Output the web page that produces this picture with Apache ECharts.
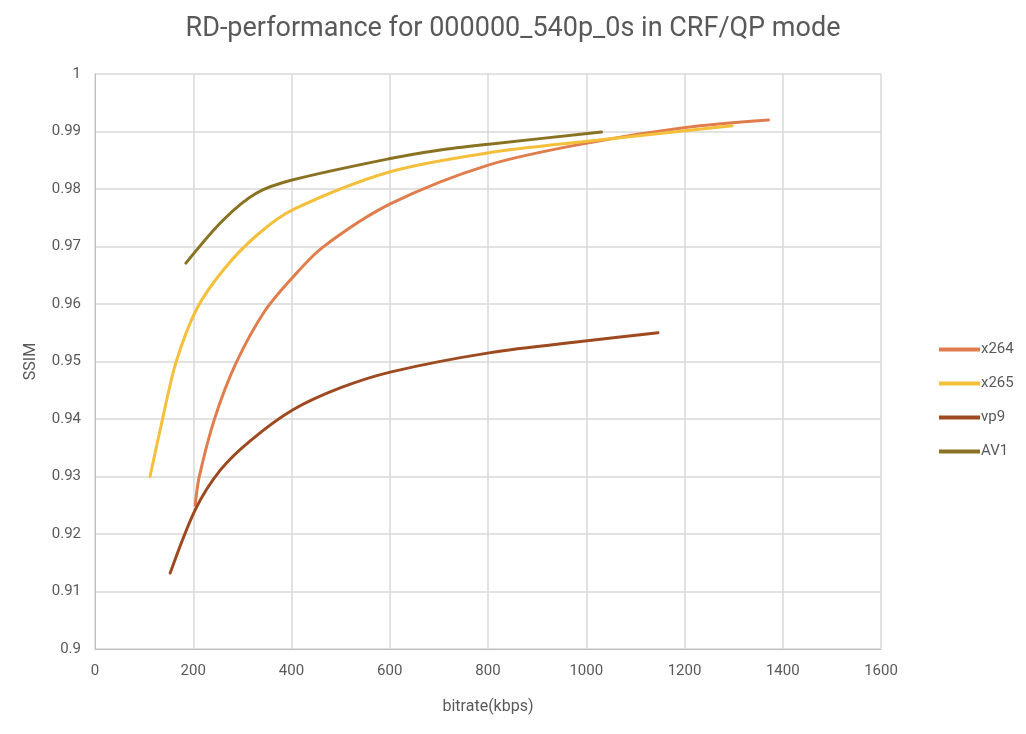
<!DOCTYPE html>
<html>
<head>
<meta charset="utf-8">
<script src="https://cdn.jsdelivr.net/npm/echarts@6/dist/echarts.min.js"></script>
<style>
html,body{margin:0;padding:0;background:#fff;}
#chart{width:1026px;height:734px;}
</style>
</head>
<body>
<div id="chart"></div>
<script>
var seriesNames = ['x264', 'x265', 'vp9', 'AV1'];
var seriesColors = ['#E07D4C', '#F4BF3A', '#9E4A20', '#8A7223'];

var x264 = [[204,0.9250],[212,0.9299],[244,0.9402],[287,0.9497],[345,0.9587],[403,0.9647],[464,0.9699],[601,0.9774],[802,0.9842],[1002,0.9880],[1202,0.9907],[1371,0.9920]];
var x265 = [[112,0.9300],[138,0.9402],[165,0.9499],[208,0.9593],[265,0.9663],[330,0.9720],[403,0.9764],[601,0.9830],[802,0.9863],[1002,0.9883],[1297,0.9910]];
var vp9 = [[153,0.9132],[204,0.9242],[255,0.9311],[316,0.9362],[403,0.9416],[499,0.9454],[603,0.9482],[802,0.9515],[1002,0.9536],[1146,0.9550]];
var av1 = [[185,0.9671],[261,0.9746],[329,0.9793],[403,0.9816],[601,0.9853],[703,0.9868],[802,0.9878],[1031,0.9899]];
var seriesData = [x264, x265, vp9, av1];

var chart = echarts.init(document.getElementById('chart'));
var font = 'Roboto, "Liberation Sans", sans-serif';
chart.setOption({
  animation: false,
  backgroundColor: '#fff',
  title: {
    text: 'RD-performance for 000000_540p_0s in CRF/QP mode',
    left: 'center', top: 11,
    textStyle: {fontFamily: font, fontSize: 27, fontWeight: 'normal', color: '#595959'}
  },
  legend: {
    orient: 'vertical', left: 934, top: 337,
    icon: 'rect', itemWidth: 41, itemHeight: 4, itemGap: 19,
    textStyle: {fontFamily: font, fontSize: 15, color: '#595959', padding: [0,0,0,-4]},
    data: seriesNames
  },
  grid: {left: 95, right: 145, top: 74, bottom: 85},
  xAxis: {
    type: 'value', min: 0, max: 1600, interval: 200,
    name: 'bitrate(kbps)', nameLocation: 'middle', nameGap: 50,
    nameTextStyle: {fontFamily: font, fontSize: 16, color: '#595959'},
    axisLine: {show: true, lineStyle: {color: '#BFBFBF', width: 1}},
    axisTick: {show: false},
    axisLabel: {fontFamily: font, fontSize: 15, color: '#595959', margin: 15,
      formatter: function(v){ return String(v); }},
    splitLine: {show: true, lineStyle: {color: '#D9D9D9', width: 1.5}}
  },
  yAxis: {
    type: 'value', min: 0.9, max: 1, interval: 0.01,
    name: 'SSIM', nameLocation: 'middle', nameGap: 56, nameRotate: 90,
    nameTextStyle: {fontFamily: font, fontSize: 16, color: '#595959'},
    axisLine: {show: true, lineStyle: {color: '#BFBFBF', width: 1}},
    axisTick: {show: false},
    axisLabel: {fontFamily: font, fontSize: 15, color: '#595959', margin: 14,
      formatter: function(v){ return String(parseFloat(v.toFixed(2))); }},
    splitLine: {show: true, lineStyle: {color: '#D9D9D9', width: 1.5}}
  },
  series: seriesNames.map(function(n, i){
    return {
      name: n, type: 'line', data: seriesData[i],
      smooth: 0.3, showSymbol: false, symbol: 'none',
      lineStyle: {color: seriesColors[i], width: 3, cap: 'round'},
      itemStyle: {color: seriesColors[i]}
    };
  })
});
</script>
</body>
</html>
